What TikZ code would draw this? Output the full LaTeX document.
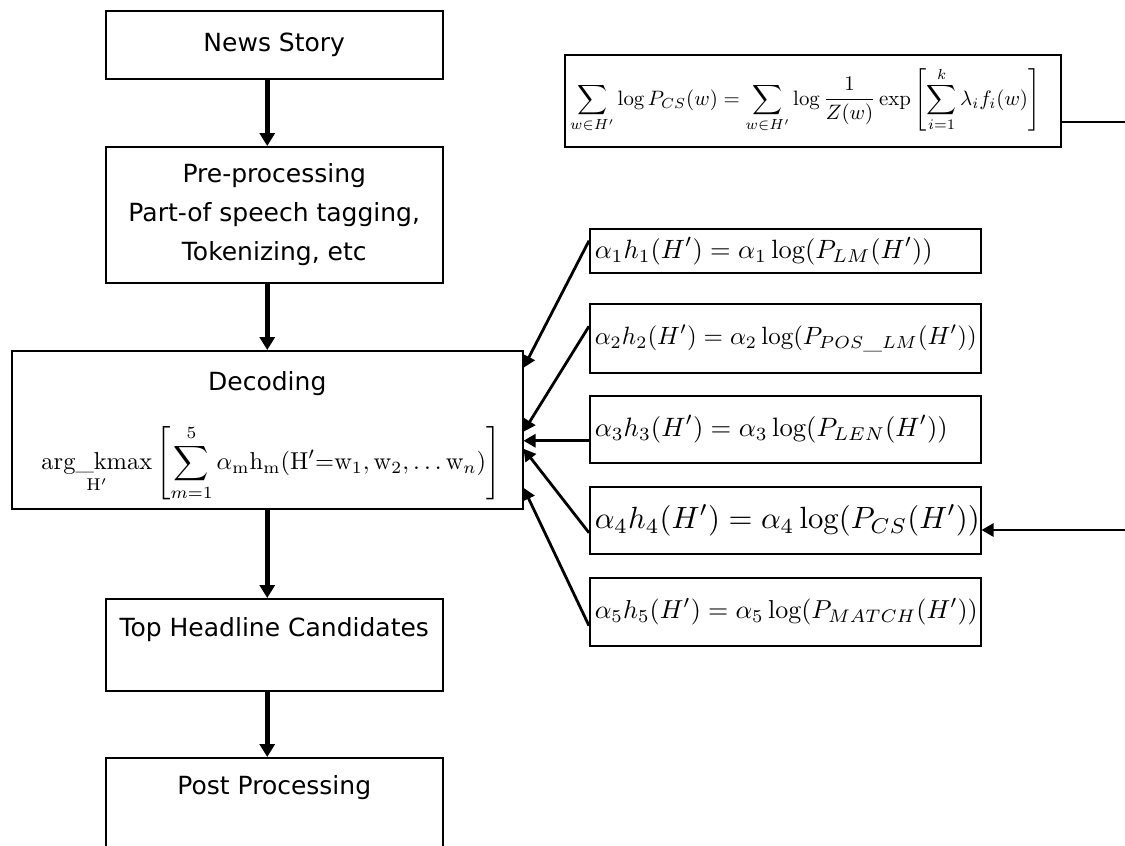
\documentclass[tikz,border=0pt]{standalone}
\usepackage{fontspec}
\setsansfont{DejaVu Sans}
\usepackage{graphicx}
\usetikzlibrary{arrows.meta,calc}
\newcommand{\fitbox}[2]{\resizebox{#1}{!}{$\displaystyle #2$}}
\newcommand{\stagefont}{\sffamily\fontsize{25}{39}\selectfont}
\begin{document}
\begin{tikzpicture}[x=1pt,y=-1pt,
  stage/.style={draw, line width=1.5pt, anchor=north west, minimum width=337pt, inner sep=0pt, font=\stagefont, align=center},
  stagetext/.style={font=\stagefont, inner sep=0pt},
  feat/.style={draw, line width=1.5pt, anchor=north west, minimum width=391pt, inner xsep=5pt, inner ysep=0pt, text width=381pt, align=left},
  flow/.style={-{Triangle[width=15pt,length=13pt]}, line width=4.5pt},
  weight/.style={-{Triangle[width=13pt,length=12pt]}, line width=2.8pt}]
\clip (0,0) rectangle (1125,846);
\fill[white] (0,0) rectangle (1125,846);
% left column
\node[stage, minimum height=68pt] (news) at (105,10) {News Story};
\node[stage, minimum height=136pt] (pre) at (105,146) {Pre-processing\\Part-of speech tagging,\\Tokenizing, etc};
\node[draw, line width=1.5pt, anchor=north west, minimum width=511pt, minimum height=158pt] (dec) at (11,350) {};
\node[stagetext] (dectext) at ([yshift=-34pt]dec.north) {Decoding};
\node[inner sep=0pt] (decform) at (271,463)
  {\fitbox{459pt}{\mathop{\mathrm{arg\_kmax}}\limits_{\mathrm{H'}}\left[\sum_{m=1}^{5}\alpha_{\mathrm{m}}\mathrm{h}_{\mathrm{m}}(\mathrm{H'}{=}\mathrm{w}_1,\mathrm{w}_2,\ldots\mathrm{w}_n)\right]}};
\node[stage, minimum height=92pt] (top) at (105,598) {};
\node[stagetext] (toptext) at ([yshift=-32pt]top.north) {Top Headline Candidates};
\node[stage, minimum height=150pt] (post) at (105,757) {};
\node[stagetext] (posttext) at ([yshift=-31pt]post.north) {Post Processing};
\draw[flow] (dec |- news.south) -- (dec |- pre.north);
\draw[flow] (dec |- pre.south) -- (dec.north);
\draw[flow] (dec.south) -- (dec |- top.north);
\draw[flow] (dec |- top.south) -- (dec |- post.north);
% feature functions
\node[draw, line width=1.5pt, anchor=north west, minimum width=496pt, minimum height=92pt, inner sep=0pt] (cs) at (564,54) {};
\node[inner sep=0pt, anchor=west] (csform) at (570,100)
  {\fitbox{470pt}{\sum_{w\in H'}\log P_{CS}(w)=\sum_{w\in H'}\log\frac{1}{Z(w)}\exp\left[\sum_{i=1}^{k}\lambda_i f_i(w)\right]}};
\node[feat, minimum height=44pt] (f1) at (589,228) {\fitbox{338pt}{\alpha_1 h_1(H')=\alpha_1\log(P_{LM}(H'))}};
\node[feat, minimum height=69pt] (f2) at (589,303) {\fitbox{382pt}{\alpha_2 h_2(H')=\alpha_2\log(P_{POS\_LM}(H'))}};
\node[feat, minimum height=67pt] (f3) at (589,395) {\fitbox{353pt}{\alpha_3 h_3(H')=\alpha_3\log(P_{LEN}(H'))}};
\node[feat, minimum height=67pt] (f4) at (589,486) {\fitbox{385pt}{\alpha_4 h_4(H')=\alpha_4\log(P_{CS}(H'))}};
\node[feat, minimum height=68pt] (f5) at (589,577) {\fitbox{383pt}{\alpha_5 h_5(H')=\alpha_5\log(P_{MATCH}(H'))}};
\draw[weight] ([yshift=10pt]f1.west) -- ([yshift=62pt]dec.east);
\draw[weight] ([yshift=12pt]f2.west) -- ([yshift=-2pt]dec.east);
\draw[weight] ([yshift=-11.5pt]f3.west) -- ([yshift=-11pt]dec.east);
\draw[weight] ([yshift=-12.5pt]f4.west) -- ([yshift=-19pt]dec.east);
\draw[weight] ([yshift=-14pt]f5.west) -- ([yshift=-58pt]dec.east);
\coordinate (csin) at (1125,530);
\coordinate (csout) at (1125,122);
\draw[weight] (csin) -- (csin -| f4.east);
\draw[line width=1.5pt] (csout -| cs.east) -- (csout);
\end{tikzpicture}
\end{document}
